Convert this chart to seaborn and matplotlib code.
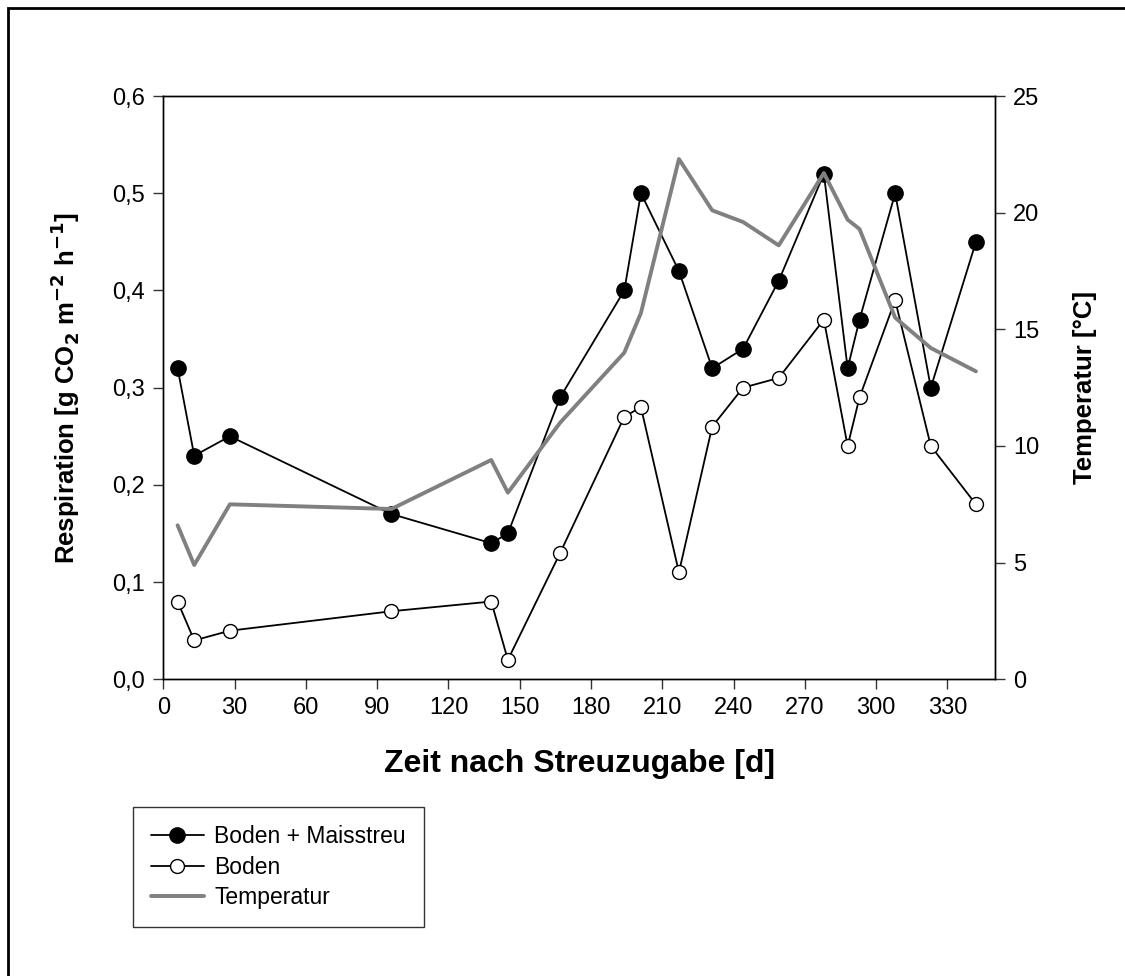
import matplotlib
matplotlib.use("Agg")
import matplotlib.pyplot as plt
from matplotlib.patches import Rectangle
from matplotlib.lines import Line2D
from matplotlib.ticker import FuncFormatter
import seaborn as sns
import pandas as pd

# ---- data ----
days = [6, 13, 28, 96, 138, 145, 167, 194, 201, 217, 231, 244, 259, 278, 288, 293, 308, 323, 342]
resp_mais = [0.32, 0.23, 0.25, 0.17, 0.14, 0.15, 0.29, 0.40, 0.50, 0.42, 0.32, 0.34, 0.41, 0.52, 0.32, 0.37, 0.50, 0.30, 0.45]
resp_boden = [0.08, 0.04, 0.05, 0.07, 0.08, 0.02, 0.13, 0.27, 0.28, 0.11, 0.26, 0.30, 0.31, 0.37, 0.24, 0.29, 0.39, 0.24, 0.18]
temperatur = [6.6, 4.9, 7.5, 7.3, 9.4, 8.0, 11.0, 14.0, 15.7, 22.3, 20.1, 19.6, 18.6, 21.7, 19.7, 19.3, 15.5, 14.2, 13.2]
x_ticks = list(range(0, 331, 30))
y_ticks = [0.0, 0.1, 0.2, 0.3, 0.4, 0.5, 0.6]
t_ticks = [0, 5, 10, 15, 20, 25]
labels = ["Boden + Maisstreu", "Boden", "Temperatur"]

df = pd.DataFrame({"day": days, "mais": resp_mais, "boden": resp_boden, "temp": temperatur})

sns.set_theme(style="ticks")
plt.rcParams["font.family"] = ["Liberation Sans", "DejaVu Sans"]
plt.rcParams["mathtext.default"] = "bf"
for k in ["text.color", "axes.labelcolor", "xtick.labelcolor", "ytick.labelcolor"]:
    plt.rcParams[k] = "black"

fig = plt.figure(figsize=(11.25, 9.76), dpi=100)
ax = fig.add_axes([0.1452, 0.304, 0.8844 - 0.1452, 0.9016 - 0.304])
ax2 = ax.twinx()

sns.lineplot(data=df, x="day", y="mais", ax=ax, color="black", linewidth=1.3,
             marker="o", markersize=11, markerfacecolor="black", markeredgecolor="black",
             markeredgewidth=1, zorder=3)
sns.lineplot(data=df, x="day", y="boden", ax=ax, color="black", linewidth=1.3,
             marker="o", markersize=10, markerfacecolor="white", markeredgecolor="black",
             markeredgewidth=1, zorder=3)
sns.lineplot(data=df, x="day", y="temp", ax=ax2, color="#808080", linewidth=2.8, zorder=2)

ax.set_xlim(0, 350)
ax.set_ylim(0, 0.6)
ax2.set_ylim(0, 25)
ax.set_xticks(x_ticks)
ax.set_yticks(y_ticks)
ax2.set_yticks(t_ticks)
ax.yaxis.set_major_formatter(FuncFormatter(lambda v, p: f"{v:.1f}".replace(".", ",")))

for a in (ax, ax2):
    for s in a.spines.values():
        s.set_color("black")
        s.set_linewidth(1.0)
    a.tick_params(direction="out", length=7, width=1, color="#333333", labelsize=17, pad=6, labelcolor="black")

ax.set_xlabel("Zeit nach Streuzugabe [d]", fontsize=23, fontweight="bold", labelpad=21)
ax.set_ylabel(r"Respiration [g CO$_\mathbf{2}$ m$^\mathbf{-2}$ h$^\mathbf{-1}$]", fontsize=18.5, fontweight="bold", labelpad=22)
ax2.set_ylabel("Temperatur [°C]", fontsize=18.5, fontweight="bold", labelpad=24)

handles = [
    Line2D([], [], color="black", linewidth=1.3, marker="o", markersize=11, markerfacecolor="black", markeredgecolor="black"),
    Line2D([], [], color="black", linewidth=1.3, marker="o", markersize=10, markerfacecolor="white", markeredgecolor="black"),
    Line2D([], [], color="#808080", linewidth=2.8),
]
leg = fig.legend(handles, labels, loc="upper left", bbox_to_anchor=(0.118, 0.05, 0.377 - 0.118, 1 - 807 / 976 - 0.05),
                 mode="expand", fontsize=16.5, frameon=True, fancybox=False, handlelength=2.3,
                 borderaxespad=0, labelspacing=0.32, handletextpad=0.45, borderpad=0.8)
leg.get_frame().set_edgecolor("black")
leg.get_frame().set_linewidth(1.0)

fig.patches.append(Rectangle((8 / 1125, -0.1), 1.2, 1.1 - 8 / 976, transform=fig.transFigure,
                             fill=False, edgecolor="black", linewidth=2, zorder=10))

fig.savefig("out.png", dpi=100)
